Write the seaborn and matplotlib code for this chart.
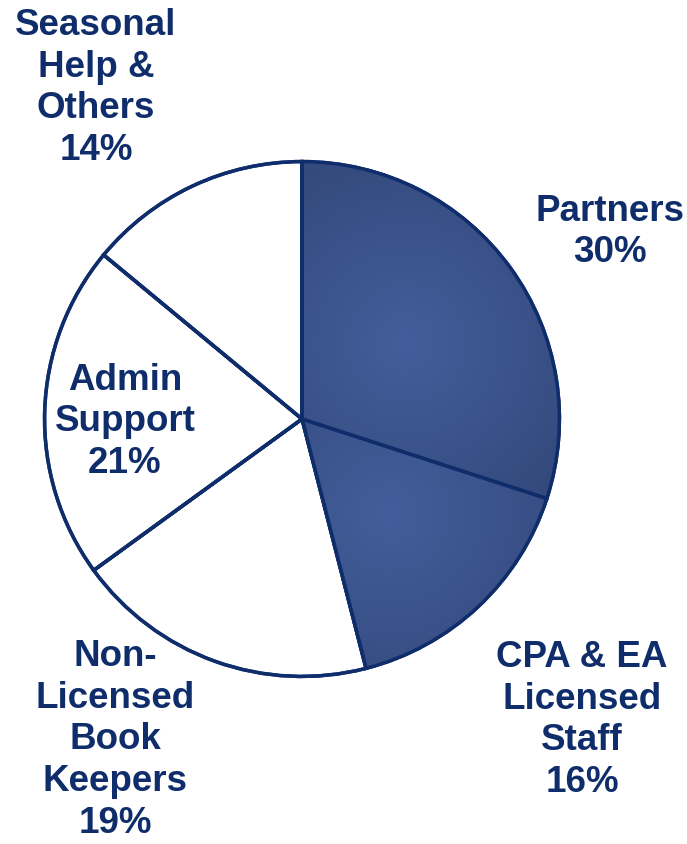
import numpy as np
import matplotlib
matplotlib.use('Agg')
import matplotlib.pyplot as plt
import seaborn as sns
from matplotlib.patches import Wedge
from matplotlib.colors import LinearSegmentedColormap

# dados
categorias = ['Partners', 'CPA & EA\nLicensed\nStaff', 'Non-\nLicensed\nBook\nKeepers',
              'Admin\nSupport', 'Seasonal\nHelp &\nOthers']
valores = [30, 16, 19, 21, 14]
preenchido = [True, True, False, False, False]

sns.set_theme(style='white')
plt.rcParams['font.family'] = ['Liberation Sans', 'DejaVu Sans']

azul_texto = '#0f2d6b'
borda = '#0f2d6b'

fig = plt.figure(figsize=(6.87, 8.45), dpi=100)
W, H = 687, 845
cx, cy, r = 302, 420, 260
ax = fig.add_axes([(cx - r) / W, (H - cy - r) / H, 2 * r / W, 2 * r / H])

cores = ['#3d5891' if p else 'white' for p in preenchido]
wedges, _ = ax.pie(valores, startangle=90, counterclock=False, colors=cores,
                   radius=1, wedgeprops=dict(edgecolor=borda, linewidth=2.5))

# gradiente radial nas fatias preenchidas
cmap = LinearSegmentedColormap.from_list('g', ['#435e9b', '#3b548c', '#34497c'])
xx, yy = np.meshgrid(np.linspace(-1, 1, 400), np.linspace(-1, 1, 400))
for w, p in zip(wedges, preenchido):
    if not p:
        continue
    mid = np.deg2rad((w.theta1 + w.theta2) / 2)
    gx, gy = 0.5 * np.cos(mid), 0.5 * np.sin(mid)
    d = np.sqrt((xx - gx) ** 2 + (yy - gy) ** 2)
    im = ax.imshow(d, extent=(-1, 1, -1, 1), origin='lower', cmap=cmap,
                   vmin=0, vmax=0.8, zorder=w.get_zorder() + 0.1)
    im.set_clip_path(w)

# bordas por cima do gradiente
for w in wedges:
    ax.add_patch(Wedge(w.center, w.r, w.theta1, w.theta2, facecolor='none',
                       edgecolor=borda, linewidth=2.5, zorder=5))

# posições dos rótulos (pixels)
pos_rotulos = [(610, 232), (582, 720), (115, 740), (125, 422), (96, 88)]
for nome, v, (px, py) in zip(categorias, valores, pos_rotulos):
    fig.text(px / W, 1 - py / H, f'{nome}\n{v}%', ha='center', va='center',
             fontsize=26.5, fontweight='bold', color=azul_texto, linespacing=1.25,
             zorder=10)

ax.set_xlim(-1.01, 1.01)
ax.set_ylim(-1.01, 1.01)
ax.axis('off')
fig.savefig('out.png', dpi=100)
